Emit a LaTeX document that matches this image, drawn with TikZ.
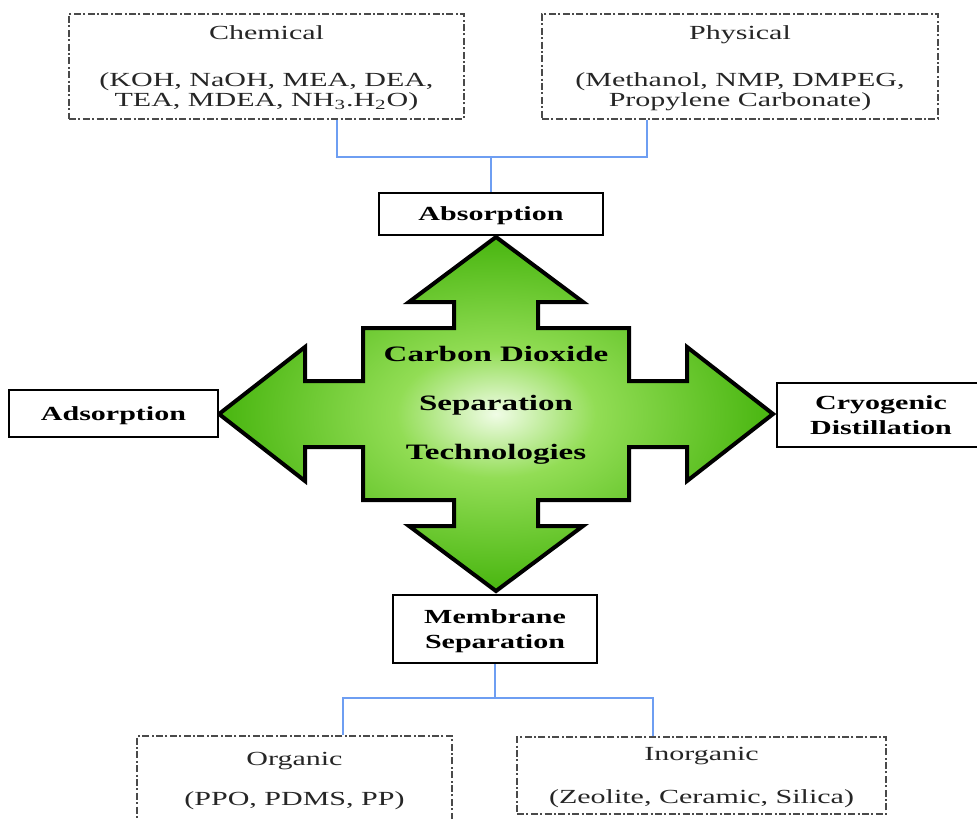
\documentclass[tikz,border=0pt]{standalone}
\usepackage{fontspec}
\setmainfont[FakeStretch=1.5]{Liberation Serif}
\usetikzlibrary{positioning}

\definecolor{linkblue}{HTML}{6E9EF2}
\definecolor{boxgray}{HTML}{4A4A4A}
\definecolor{greendark}{HTML}{1E7D05}
\definecolor{greenmid}{HTML}{4DB814}
\definecolor{greenlight}{HTML}{92DD55}
\definecolor{greenglow}{HTML}{F0FCE6}

\pgfdeclareradialshading{greenburst}{\pgfpoint{0bp}{0bp}}{%
  color(0bp)=(greenglow); color(9bp)=(greenlight); color(24bp)=(greenmid);
  color(36bp)=(greenmid!80!greendark); color(50bp)=(greendark); color(70bp)=(greendark)}

\begin{document}
\begin{tikzpicture}[x=0.5pt, y=-0.5pt]
  \tikzset{ techbox/.style={draw=black,line width=1.3pt,fill=white,inner sep=0pt,
      align=center,text depth=0pt,font=\bfseries\fontsize{10}{12.5}\selectfont},
    subbox/.style={draw=boxgray,line width=0.8pt,fill=white,inner sep=0pt,align=center,
      text depth=0pt,text=black!85,font=\fontsize{10}{10}\selectfont,
      dash pattern=on 3.5pt off 1.2pt on 1pt off 1.2pt},
    bluelink/.style={draw=linkblue,line width=1.1pt},
    bigarrow/.style={draw=black,line width=2pt,line join=miter,shading=greenburst},
  }
  \clip (0,0) rectangle (977,818);

  % the four-way arrow in the middle
  \begin{scope}[shift={(496,414)}]
    \draw[bigarrow] (0,-177) -- (87,-112) -- (42,-112) -- (42,-86) -- (133,-86)
      -- (133,-33) -- (191,-33) -- (191,-67) -- (277,0) -- (191,67) -- (191,33)
      -- (133,33) -- (133,86) -- (42,86) -- (42,112) -- (87,112) -- (0,177)
      -- (-87,112) -- (-42,112) -- (-42,86) -- (-133,86) -- (-133,33) -- (-191,33)
      -- (-191,67) -- (-277,0) -- (-191,-67) -- (-191,-33) -- (-133,-33)
      -- (-133,-86) -- (-42,-86) -- (-42,-112) -- (-87,-112) -- cycle;
  \end{scope}
  \node[align=center,font=\bfseries\fontsize{11}{24.5}\selectfont] (hub) at (496,405)
    {Carbon Dioxide\\Separation\\Technologies};

  % the technologies
  \node[techbox,minimum width=112pt,minimum height=21pt] (absorb) at (491,214) {Absorption};
  \node[techbox,minimum width=104.5pt,minimum height=23.5pt] (adsorb) at (113.5,413.5) {Adsorption};
  \node[techbox,minimum width=104pt,minimum height=32pt] (cryo) at (881,415) {Cryogenic\\Distillation};
  \node[techbox,minimum width=102pt,minimum height=34pt] (membr) at (495,629) {Membrane\\Separation};

  % the kinds of each
  \node[subbox,minimum width=197.5pt,minimum height=52.5pt] (chem) at (266.5,66.5)
    {Chemical\\[13.5pt](KOH, NaOH, MEA, DEA,\\TEA, MDEA, NH\textsubscript{3}.H\textsubscript{2}O)};
  \node[subbox,minimum width=198pt,minimum height=52.5pt] (phys) at (740,66.5)
    {Physical\\[13.5pt](Methanol, NMP, DMPEG,\\Propylene Carbonate)};
  \node[subbox,minimum width=157.5pt,minimum height=43pt] (organic) at (294.5,779)
    {Organic\\[10pt](PPO, PDMS, PP)};
  \node[subbox,minimum width=184.5pt,minimum height=38.5pt] (inorganic) at (701.5,775.5)
    {Inorganic\\[11.5pt](Zeolite, Ceramic, Silica)};

  % the blue joins
  \coordinate (jtop) at (491,157);
  \coordinate (jbot) at (495,698);
  \draw[bluelink] (absorb.north) -- (jtop);
  \draw[bluelink] ([xshift=35.25pt]chem.south) |- (jtop) -| ([xshift=-46.5pt]phys.south);
  \draw[bluelink] (membr.south) -- (jbot);
  \draw[bluelink] ([xshift=24.25pt]organic.north) |- (jbot) -| ([xshift=-24.25pt]inorganic.north);
\end{tikzpicture}
\end{document}
